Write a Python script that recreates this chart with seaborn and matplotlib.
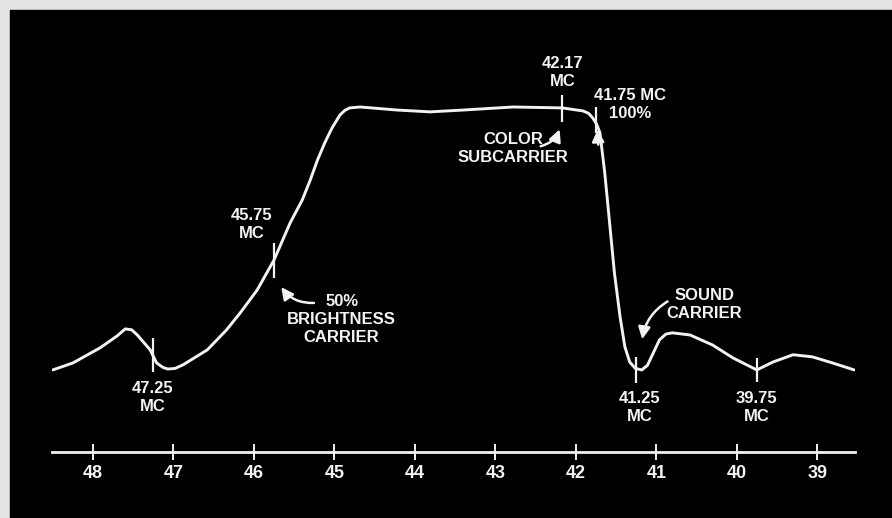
import numpy as np
import pandas as pd
import matplotlib.pyplot as plt
from matplotlib.patches import Rectangle
import seaborn as sns

sns.set_theme(style="dark")
plt.rcParams.update({
    "figure.facecolor": "#e4e4e4",
    "axes.facecolor":   "none",
    "font.family":      ["Liberation Sans", "DejaVu Sans"],
    "font.weight":      "bold",
})
TRACE = "#f2f2f2"

# --- response curve (freq in MC, relative response %) ---
freq = [48.50, 48.25, 47.91, 47.70, 47.60, 47.52, 47.45, 47.29, 47.21, 47.13,
        47.07, 46.98, 46.88, 46.58, 46.34, 46.17, 45.96, 45.75, 45.55, 45.40,
        45.30, 45.21, 45.12, 45.03, 44.97, 44.93, 44.87, 44.81, 44.68, 44.22,
        43.81, 43.40, 42.78, 42.17, 41.91, 41.84, 41.79, 41.74, 41.70, 41.64,
        41.58, 41.52, 41.45, 41.39, 41.33, 41.26, 41.18, 41.11, 41.06, 40.96,
        40.88, 40.80, 40.58, 40.30, 40.05, 39.75, 39.55, 39.30, 39.06, 38.81,
        38.54]
response = [13.8, 16.1, 21.1, 25.0, 27.3, 27.0, 25.3, 20.4, 16.1, 14.6,
            14.1, 14.3, 15.5, 20.4, 27.0, 32.6, 40.1, 50.0, 62.2, 69.7,
            76.3, 82.9, 88.5, 93.4, 96.0, 97.7, 99.2, 100.0, 100.3, 99.3,
            98.7, 99.3, 100.3, 100.0, 99.0, 98.2, 96.7, 94.6, 91.8, 78.6,
            62.2, 45.7, 31.3, 21.4, 16.4, 14.3, 13.8, 15.3, 18.1, 23.7,
            25.6, 26.0, 25.3, 22.0, 17.8, 13.8, 16.4, 18.8, 18.1, 16.1,
            13.8]

# marker pips on the trace
marker_freq = [47.25, 45.75, 42.17, 41.75, 41.25, 39.75]
marker_lo   = [13.2, 44.1, 95.4, 91.8, 9.5, 9.9]
marker_hi   = [24.3, 55.6, 104.3, 100.3, 18.1, 17.8]

axis_ticks = [48, 47, 46, 45, 44, 43, 42, 41, 40, 39]

df = pd.DataFrame({"freq": freq, "response": response})

fig = plt.figure(figsize=(8.92, 5.18), dpi=100)
# black scope screen with a paper margin on top and left
fig.patches.append(Rectangle((10 / 892, 0), 1, (518 - 10) / 518,
                             transform=fig.transFigure, color="black", zorder=-10))
ax = fig.add_axes([52 / 892, 66 / 518, (855 - 52) / 892, 452 / 518])

sns.lineplot(data=df, x="freq", y="response", ax=ax, color=TRACE, lw=2.1,
             sort=False, estimator=None)
ax.vlines(marker_freq, marker_lo, marker_hi, color=TRACE, lw=1.6)

ax.set_xlim(48.51, 38.53)
ax.set_ylim(-13.2, 135.5)
ax.set_xlabel("")
ax.set_ylabel("")
ax.set_yticks([])
ax.set_xticks(axis_ticks)
ax.set_xticklabels([str(t) for t in axis_ticks])
ax.tick_params(axis="x", direction="inout", length=12, width=1.4, colors=TRACE,
               labelsize=13, pad=3, bottom=True)
for side in ["top", "left", "right"]:
    ax.spines[side].set_visible(False)
ax.spines["bottom"].set_color(TRACE)
ax.spines["bottom"].set_linewidth(2.0)
ax.grid(False)

# labels
txt = dict(color=TRACE, fontsize=12, fontweight="bold", ha="center",
           va="center", linespacing=1.25)
ax.text(47.255, 4.6, "47.25\nMC", **txt)
ax.text(46.03, 61.5, "45.75\nMC", **txt)
ax.text(42.16, 111.7, "42.17\nMC", **txt)
ax.text(41.33, 101.2, "41.75 MC\n100%", **txt)
ax.text(42.78, 86.5, "COLOR\nSUBCARRIER", **txt)
ax.text(44.91, 30.4, "50%\nBRIGHTNESS\nCARRIER", **txt)
ax.text(40.40, 35.2, "SOUND\nCARRIER", **txt)
ax.text(41.205, 1.6, "41.25\nMC", **txt)
ax.text(39.752, 1.6, "39.75\nMC", **txt)

# arrows
arrow = dict(arrowstyle="-|>,head_length=0.6,head_width=0.3", color=TRACE, lw=1.8)
ax.annotate("", xy=(45.68, 41.8), xytext=(45.22, 35.9),
            arrowprops=dict(arrow, connectionstyle="arc3,rad=-0.3"))
ax.annotate("", xy=(42.19, 93.8), xytext=(42.47, 87.2),
            arrowprops=dict(arrow, connectionstyle="arc3,rad=0.3"))
ax.annotate("", xy=(41.73, 93.8), xytext=(41.72, 87.0),
            arrowprops=dict(arrow))
ax.annotate("", xy=(41.18, 23.0), xytext=(40.83, 36.8),
            arrowprops=dict(arrow, connectionstyle="arc3,rad=0.25"))

plt.savefig("out.png", dpi=100, facecolor=fig.get_facecolor())
